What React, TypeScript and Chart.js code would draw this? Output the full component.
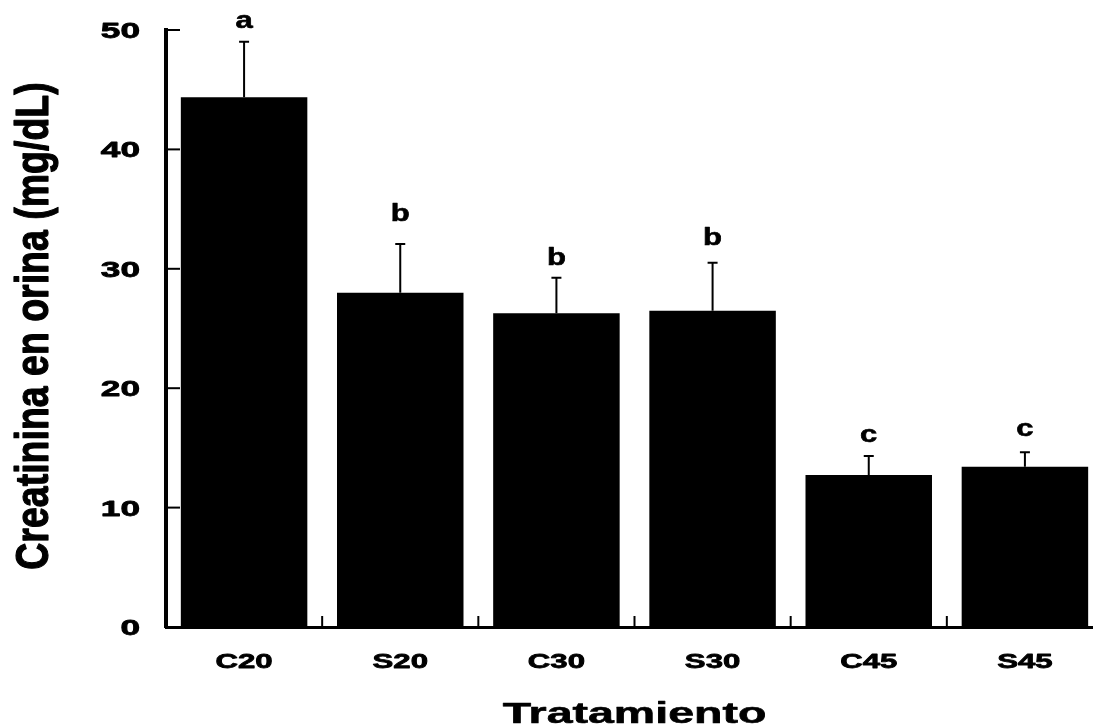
import React, { useEffect, useRef } from 'react';
import { Chart, registerables } from 'chart.js';

Chart.register(...registerables);

const categories = ['C20', 'S20', 'C30', 'S30', 'C45', 'S45'];
const means = [44.36, 28.0, 26.27, 26.49, 12.73, 13.43];
const errors = [4.66, 4.08, 2.98, 4.02, 1.59, 1.2];
const letters = ['a', 'b', 'b', 'b', 'c', 'c'];
const letterLevels = [50.14, 34.03, 30.32, 31.99, 15.52, 16.0];
const yTickValues = [0, 10, 20, 30, 40, 50];
const xTitle = 'Tratamiento';
const yTitle = 'Creatinina en orina (mg/dL)';

const FONT = '"Liberation Sans", Arial, Helvetica, sans-serif';

function drawText(
  ctx: CanvasRenderingContext2D,
  text: string,
  x: number,
  y: number,
  size: number,
  sx: number,
  align: CanvasTextAlign,
  heavy = 0
) {
  ctx.save();
  ctx.font = `bold ${size}px ${FONT}`;
  ctx.fillStyle = '#000';
  ctx.strokeStyle = '#000';
  ctx.textBaseline = 'alphabetic';
  ctx.textAlign = align;
  ctx.translate(x, y);
  ctx.scale(sx, 1);
  ctx.fillText(text, 0, 0);
  if (heavy > 0) {
    ctx.lineWidth = heavy;
    ctx.lineJoin = 'round';
    ctx.strokeText(text, 0, 0);
  }
  ctx.restore();
}

const decorPlugin = {
  id: 'decor',
  afterDraw(chart: any) {
    const ctx: CanvasRenderingContext2D = chart.ctx;
    const xs = chart.scales.x;
    const ys = chart.scales.y;
    const area = chart.chartArea;
    const meta = chart.getDatasetMeta(0);

    ctx.save();
    ctx.strokeStyle = '#000';
    ctx.lineWidth = 2;

    // error bars (upper only)
    meta.data.forEach((bar: any, i: number) => {
      const x = bar.x;
      const yTop = ys.getPixelForValue(means[i]);
      const yErr = ys.getPixelForValue(means[i] + errors[i]);
      ctx.beginPath();
      ctx.moveTo(x, yTop);
      ctx.lineTo(x, yErr);
      ctx.moveTo(x - 5, yErr);
      ctx.lineTo(x + 5, yErr);
      ctx.stroke();
    });

    // y ticks (inward)
    yTickValues.forEach((v) => {
      const y = ys.getPixelForValue(v);
      ctx.beginPath();
      ctx.moveTo(area.left, y);
      ctx.lineTo(area.left + 14, y);
      ctx.stroke();
    });

    // x ticks at category boundaries (inward)
    const n = categories.length;
    const w = (xs.right - xs.left) / n;
    for (let i = 1; i <= n; i++) {
      const x = xs.left + i * w;
      ctx.beginPath();
      ctx.moveTo(x, area.bottom);
      ctx.lineTo(x, area.bottom - 11);
      ctx.stroke();
    }
    ctx.restore();

    // significance letters
    meta.data.forEach((bar: any, i: number) => {
      drawText(ctx, letters[i], bar.x, ys.getPixelForValue(letterLevels[i]), 23, 1.35, 'center', 0.6);
    });

    // y tick labels
    yTickValues.forEach((v) => {
      const y = ys.getPixelForValue(v);
      drawText(ctx, String(v), area.left - 26, y + 8, 22, 1.6, 'right', 0.8);
    });

    // x tick labels
    categories.forEach((c, i) => {
      drawText(ctx, c, xs.getPixelForValue(i), area.bottom + 41, 20.5, 1.52, 'center', 0.8);
    });

    // x title
    drawText(ctx, xTitle, (area.left + area.right) / 2, area.bottom + 96, 30, 1.55, 'center', 0.6);

    // y title (rotated)
    ctx.save();
    ctx.translate(48, 326);
    ctx.rotate(-Math.PI / 2);
    ctx.scale(0.815, 1);
    ctx.font = `bold 46px ${FONT}`;
    ctx.fillStyle = '#000';
    ctx.strokeStyle = '#000';
    ctx.textAlign = 'center';
    ctx.textBaseline = 'alphabetic';
    ctx.fillText(yTitle, 0, 0);
    ctx.lineWidth = 1.2;
    ctx.lineJoin = 'round';
    ctx.strokeText(yTitle, 0, 0);
    ctx.restore();
  },
};

export default function App() {
  const ref = useRef<HTMLCanvasElement>(null);

  useEffect(() => {
    if (!ref.current) return;
    const chart = new Chart(ref.current, {
      type: 'bar',
      data: {
        labels: categories,
        datasets: [
          {
            data: means,
            backgroundColor: '#000',
            borderWidth: 0,
            barPercentage: 0.81,
            categoryPercentage: 1.0,
          },
        ],
      },
      options: {
        responsive: false,
        animation: false,
        layout: { padding: { left: 166, top: 30, right: 7, bottom: 99 } },
        plugins: { legend: { display: false }, tooltip: { enabled: false } },
        scales: {
          x: {
            ticks: { display: false },
            grid: { display: false, drawTicks: false, tickLength: 0 },
            border: { display: true, color: '#000', width: 3 },
          },
          y: {
            min: 0,
            max: 50,
            ticks: { display: false, stepSize: 10 },
            grid: { display: false, drawTicks: false, tickLength: 0 },
            border: { display: true, color: '#000', width: 4 },
          },
        },
      },
      plugins: [decorPlugin],
    });
    let alive = true;
    if ((document as any).fonts && (document as any).fonts.ready) {
      (document as any).fonts.ready.then(() => {
        if (alive) chart.draw();
      });
    }
    return () => {
      alive = false;
      chart.destroy();
    };
  }, []);

  return (
    <div
      style={{
        position: 'absolute',
        left: 0,
        top: 0,
        width: 1093,
        height: 726,
        overflow: 'hidden',
        background: '#fff',
      }}
    >
      <canvas ref={ref} width={1110} height={726} style={{ display: 'block' }} />
    </div>
  );
}
